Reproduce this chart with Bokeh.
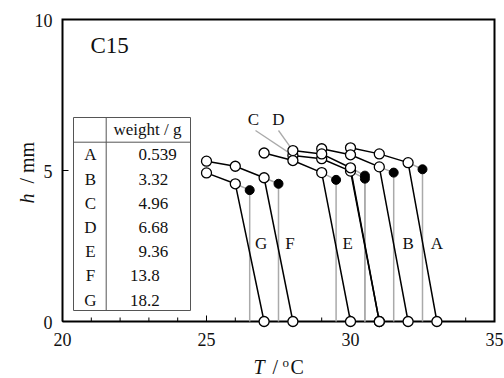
from bokeh.plotting import figure
from bokeh.embed import file_html
from bokeh.resources import INLINE
from bokeh.core.properties import value

FONT = "Liberation Serif"

# ---------------- data ----------------
names = ["A", "B", "C", "D", "E", "F", "G"]
weights = [0.539, 3.32, 4.96, 6.68, 9.36, 13.8, 18.2]

A_T = [30, 31, 32, 33]; A_h = [5.75, 5.55, 5.26, 0]
B_T = [29, 30, 31, 32]; B_h = [5.72, 5.52, 5.12, 0]
C_T = [28, 29, 30, 31]; C_h = [5.50, 5.39, 4.98, 0]
D_T = [28, 29, 30, 31]; D_h = [5.66, 5.55, 5.09, 0]
E_T = [27, 28, 29, 30]; E_h = [5.58, 5.33, 4.93, 0]
F_T = [25, 26, 27, 28]; F_h = [5.31, 5.14, 4.76, 0]
G_T = [25, 26, 27];     G_h = [4.92, 4.56, 0]

# transition points (filled dots), series A..G
dot_T = [32.5, 31.5, 30.5, 30.5, 29.5, 27.5, 26.5]
dot_h = [5.04, 4.93, 4.73, 4.83, 4.69, 4.56, 4.35]

x_ticks = [20, 25, 30, 35]
x_minor = list(range(20, 36))
y_ticks = [0, 5, 10]
x_tick_labels = ["20", "25", "30", "35"]
y_tick_labels = ["0", "5", "10"]

series_T = [A_T, B_T, C_T, D_T, E_T, F_T, G_T]
series_h = [A_h, B_h, C_h, D_h, E_h, F_h, G_h]

# ---------------- layout (pixel geometry of the frame) ----------------
W, H = 504, 378
FL, FR, FT, FB = 62, 494, 19, 321          # frame edges in pixels
X0, X1, Y0, Y1 = 20, 35, 0, 10
sx = (FR - FL) / (X1 - X0)                  # px per degree
sy = (FB - FT) / (Y1 - Y0)                  # px per mm
K = 0.36                                    # baseline correction (em)


def dx(px):
    return px / sx


def dy(px):
    return px / sy


def X(px):    # canvas pixel x -> data x
    return X0 + (px - FL) / sx


def Y(py):    # canvas pixel y -> data y
    return Y0 + (FB - py) / sy


def YB(py, fs):   # visual baseline pixel -> data y for a text of size fs
    return Y(py - K * fs)


def XB(px, fs):   # visual baseline pixel (rotated text) -> data x
    return X(px - K * fs)


p = figure(width=W, height=H,
           x_range=(X(0), X(W)), y_range=(Y(H), Y(0)),
           output_backend="svg", toolbar_location=None,
           x_axis_location=None, y_axis_location=None,
           min_border=0)
p.outline_line_color = None
p.background_fill_color = "white"
p.border_fill_color = "white"
p.xgrid.visible = False
p.ygrid.visible = False

TXT = "#111111"

# ---------------- frame and ticks ----------------
p.line([X0, X1, X1, X0, X0], [Y0, Y0, Y1, Y1, Y0], line_color="black",
       line_width=2, line_join="miter")
p.segment(x_minor, [Y0] * len(x_minor), x_minor, [Y0 + dy(4)] * len(x_minor),
          line_color="black", line_width=1)
p.segment(x_ticks, [Y0] * len(x_ticks), x_ticks, [Y0 + dy(6)] * len(x_ticks),
          line_color="black", line_width=1)
p.segment([X0] * len(y_ticks), y_ticks, [X0 + dx(6)] * len(y_ticks), y_ticks,
          line_color="black", line_width=1)

p.text(x_ticks, [YB(345, 18)] * len(x_ticks), text=x_tick_labels,
       text_font=value(FONT), text_font_size="18px", text_align="center",
       text_baseline="alphabetic", text_color=TXT)
p.text([X0 - dx(10)] * len(y_ticks), [YB(FB - t * sy + 7, 18) for t in y_ticks],
       text=y_tick_labels, text_font=value(FONT), text_font_size="18px",
       text_align="right", text_baseline="alphabetic", text_color=TXT)

# axis titles
ty = YB(374, 20)
p.text([X(253)], [ty], text=["T"], text_font=value(FONT), text_font_size="20px",
       text_font_style="italic", text_baseline="alphabetic", text_color=TXT)
p.text([X(272)], [ty], text=["/"], text_font=value(FONT), text_font_size="20px",
       text_baseline="alphabetic", text_color=TXT)
p.text([X(282)], [YB(367, 13)], text=["o"], text_font=value(FONT), text_font_size="13px",
       text_baseline="alphabetic", text_color=TXT)
p.text([X(290)], [ty], text=["C"], text_font=value(FONT), text_font_size="20px",
       text_baseline="alphabetic", text_color=TXT)

p.text([XB(34, 20)], [Y(203)], text=["h"], text_font=value(FONT), text_font_size="20px",
       text_font_style="italic", angle=1.5708, text_align="left",
       text_baseline="alphabetic", text_color=TXT)
p.text([XB(34, 20)], [Y(183)], text=["/ mm"], text_font=value(FONT), text_font_size="20px",
       angle=1.5708, text_align="left", text_baseline="alphabetic", text_color=TXT)

# ---------------- gray guide lines (last point -> dot -> axis) ----------------
for T, h, dT, dh in zip(series_T, series_h, dot_T, dot_h):
    p.line([T[-2], dT, dT], [h[-2], dh, 0], line_color="#aaaaaa", line_width=1.5)

# leader lines for C and D labels
p.line([X(255), C_T[0]], [Y(130), C_h[0]], line_color="#aaaaaa", line_width=1.3)
p.line([X(278), D_T[0]], [Y(130), D_h[0]], line_color="#aaaaaa", line_width=1.3)

# ---------------- series ----------------
for T, h in zip(series_T, series_h):
    p.line(T, h, line_color="black", line_width=1.5)

p.scatter(dot_T, dot_h, marker="circle", size=9, fill_color="black", line_color="black")

for T, h in zip(series_T, series_h):
    p.scatter(T, h, marker="circle", size=10, fill_color="white",
              line_color="black", line_width=1.3)

# ---------------- series labels ----------------
lab_T = [33.0, 32.0, 29.9, 27.9, 26.9]
lab_txt = ["A", "B", "E", "F", "G"]
p.text(lab_T, [YB(249.5, 17)] * len(lab_T), text=lab_txt, text_font=value(FONT),
       text_font_size="17px", text_align="center", text_baseline="alphabetic",
       text_color=TXT)
p.text([X(253), X(278)], [YB(125, 17)] * 2, text=["C", "D"], text_font=value(FONT),
       text_font_size="17px", text_align="center", text_baseline="alphabetic",
       text_color=TXT)

p.text([X(90)], [YB(53, 23)], text=["C15"], text_font=value(FONT), text_font_size="23px",
       text_baseline="alphabetic", text_color=TXT)

# ---------------- table ----------------
tx0, tx1, tsep = X(73), X(190), X(105.7)
ty0, ty1, thead = Y(310), Y(117), Y(141.7)
p.line([tx0, tx1, tx1, tx0, tx0], [ty0, ty0, ty1, ty1, ty0], line_color="#555555",
       line_width=1, line_join="miter")
p.line([tx0, tx1], [thead, thead], line_color="#555555", line_width=1)
p.line([tsep, tsep], [ty0, ty1], line_color="#555555", line_width=1)

row_y = [YB(160.5 + 24.2 * i, 17) for i in range(len(names))]
p.text([X(90)] * len(names), row_y, text=names, text_font=value(FONT),
       text_font_size="17px", text_align="center", text_baseline="alphabetic",
       text_color=TXT)
wstr = [str(w) for w in weights]
x_dec = X(146.5)
val_x = [x_dec - dx(8.5) * len(s.split(".")[0]) for s in wstr]
p.text(val_x, row_y, text=wstr, text_font=value(FONT),
       text_font_size="17px", text_align="left", text_baseline="alphabetic",
       text_color=TXT)
p.text([X(113)], [YB(135, 17)], text=["weight / g"], text_font=value(FONT),
       text_font_size="17px", text_align="left", text_baseline="alphabetic",
       text_color=TXT)

open("out.html", "w").write(file_html(p, INLINE))
